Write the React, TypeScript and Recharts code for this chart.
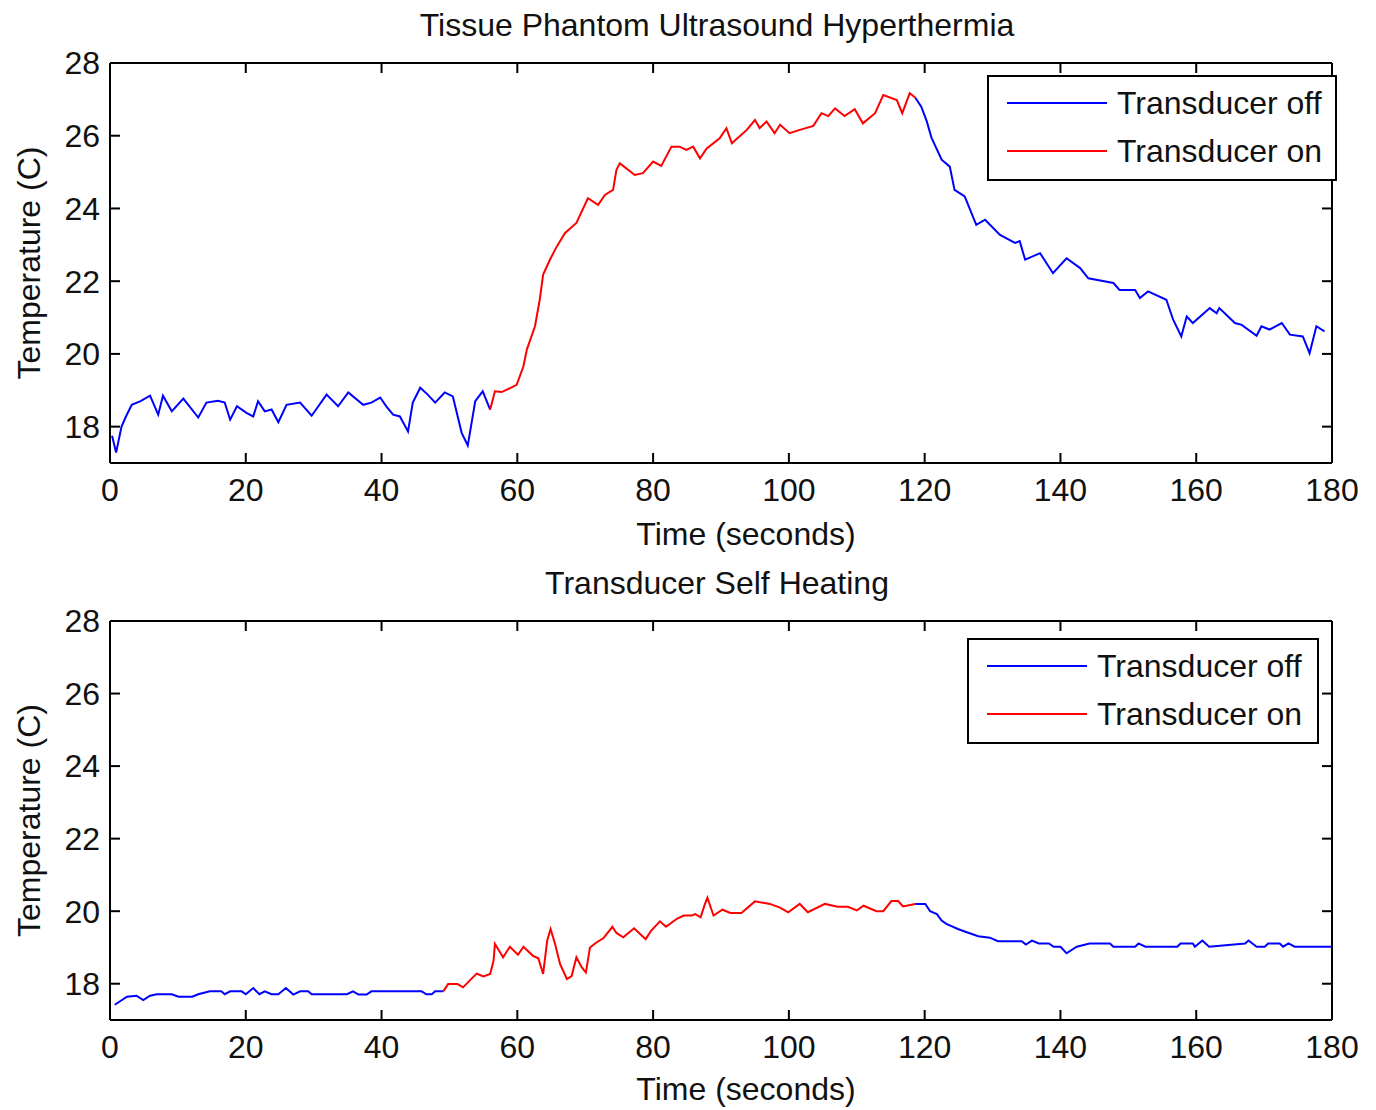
import React from 'react'
import { LineChart, Line, XAxis, YAxis, Legend } from 'recharts'

const FONT = '"Liberation Sans", Arial, Helvetica, sans-serif'

const timeTicks = [0, 20, 40, 60, 80, 100, 120, 140, 160, 180]
const tempTicks = [18, 20, 22, 24, 26, 28]
const seriesNames = ['Transducer off', 'Transducer on']

// top panel: tissue phantom
const phantomTime = [
  0.3, 0.9, 1.7, 2.4, 3.2, 4.5, 5.9, 7.1, 7.8, 9.1, 10.8, 13.0, 14.2, 15.9, 16.9, 17.7, 18.7, 20.1, 21.1, 21.8,
  22.8, 23.8, 24.8, 26.0, 28.0, 29.7, 31.9, 33.6, 35.1, 37.3, 38.5, 39.8, 40.7, 41.7, 42.7, 43.9, 44.6, 45.7, 46.8, 47.9,
  49.3, 50.5, 51.8, 52.7, 53.8, 54.9, 56.0,
  56.7, 57.7, 59.9, 60.9, 61.4, 62.6, 63.3, 63.8, 64.8, 65.8, 67.0, 68.7, 70.4, 71.9, 72.9, 74.1, 74.6, 75.1, 77.3, 78.5,
  80.0, 81.2, 82.7, 83.9, 84.9, 85.9, 86.9, 87.9, 89.8, 90.8, 91.6, 93.8, 95.0, 95.7, 96.7, 97.9, 98.7, 100.1, 101.6, 103.6,
  104.8, 105.8, 106.8, 108.2, 109.7, 110.9, 112.7, 113.9, 115.9, 116.7, 117.8, 118.6,
  119.5, 120.3, 121.0, 122.5, 123.7, 124.4, 125.9, 127.6, 128.9, 131.1, 133.3, 134.0, 134.8, 137.0, 138.9, 140.9, 142.9, 144.1,
  147.8, 148.7, 151.0, 151.7, 152.9, 155.6, 156.6, 157.8, 158.6, 159.5, 162.0, 163.0, 163.4, 165.7, 166.7, 168.9, 169.6, 170.8,
  172.6, 173.8, 175.7, 176.7, 177.7, 178.9,
]
const phantomTemp = [
  17.75, 17.29, 18.0, 18.3, 18.6, 18.7, 18.85, 18.33, 18.85, 18.42, 18.77, 18.25, 18.66, 18.71, 18.66, 18.19, 18.56, 18.38, 18.28, 18.7,
  18.42, 18.47, 18.12, 18.6, 18.66, 18.3, 18.88, 18.56, 18.94, 18.6, 18.66, 18.8, 18.56, 18.33, 18.28, 17.87, 18.66, 19.07, 18.88, 18.66,
  18.94, 18.83, 17.83, 17.48, 18.7, 18.97, 18.47,
  18.97, 18.95, 19.15, 19.66, 20.12, 20.76, 21.49, 22.18, 22.59, 22.95, 23.32, 23.6, 24.28, 24.1, 24.37, 24.51, 25.06, 25.24, 24.92, 24.97,
  25.29, 25.17, 25.7, 25.7, 25.61, 25.7, 25.38, 25.65, 25.93, 26.21, 25.79, 26.16, 26.43, 26.21, 26.39, 26.07, 26.3, 26.07, 26.16, 26.27,
  26.62, 26.54, 26.75, 26.54, 26.73, 26.34, 26.62, 27.12, 26.98, 26.62, 27.17, 27.05,
  26.8, 26.4, 25.95, 25.34, 25.15, 24.51, 24.33, 23.55, 23.69, 23.27, 23.05, 23.1, 22.59, 22.77, 22.22, 22.63, 22.36, 22.08,
  21.95, 21.76, 21.76, 21.54, 21.72, 21.49, 20.94, 20.48, 21.03, 20.85, 21.26, 21.12, 21.26, 20.85, 20.8, 20.5, 20.76, 20.67,
  20.85, 20.53, 20.48, 20.02, 20.76, 20.62,
]
const phantomOn = [56.0, 118.6]

// bottom panel: transducer self heating
const selfTime = [
  0.7, 2.5, 3.9, 4.9, 5.9, 6.9, 9.1, 10.1, 12.1, 13.0, 14.7, 16.4, 16.9, 17.7, 19.4, 20.0, 21.1, 22.0, 22.8, 23.8,
  24.8, 25.9, 27.0, 28.0, 29.2, 29.7, 34.9, 35.8, 36.6, 37.8, 38.5, 45.9, 46.6, 47.4, 47.9, 49.1,
  49.8, 51.2, 52.0, 54.0, 55.0, 56.0, 56.5, 56.7, 57.9, 58.9, 60.1, 60.9, 62.3, 63.1, 63.8, 64.4, 64.9, 65.6, 66.3, 67.3,
  68.0, 68.7, 69.5, 70.1, 70.7, 71.6, 72.7, 74.0, 74.6, 75.6, 77.2, 78.9, 79.7, 81.0, 81.9, 83.5, 84.5, 85.7, 86.2, 87.0,
  87.6, 88.0, 88.4, 88.9, 90.2, 91.4, 93.0, 95.0, 97.2, 98.7, 99.9, 101.6, 102.8, 105.3, 107.2, 108.7, 110.0, 111.0, 112.9, 113.9,
  115.1, 116.1, 116.8, 118.6,
  120.1, 120.8, 121.8, 122.5, 123.2, 124.9, 126.2, 127.9, 129.6, 130.8, 134.3, 134.9, 135.8, 136.8, 138.3, 139.0, 140.0, 140.9,
  142.4, 144.3, 147.3, 147.8, 151.0, 151.5, 152.5, 157.2, 157.7, 159.5, 159.8, 160.9, 161.9, 167.2, 167.7, 168.9, 170.1, 170.6,
  172.3, 172.8, 173.6, 174.5, 180.0,
]
const selfTemp = [
  17.42, 17.64, 17.67, 17.55, 17.67, 17.71, 17.71, 17.64, 17.64, 17.71, 17.79, 17.79, 17.71, 17.79, 17.79, 17.71, 17.88, 17.71, 17.79, 17.71,
  17.71, 17.88, 17.7, 17.79, 17.79, 17.71, 17.71, 17.79, 17.7, 17.7, 17.79, 17.79, 17.71, 17.71, 17.79, 17.79,
  17.99, 17.99, 17.9, 18.28, 18.2, 18.27, 18.64, 19.1, 18.73, 19.02, 18.8, 19.02, 18.77, 18.7, 18.27, 19.19, 19.51, 19.07, 18.54, 18.13,
  18.21, 18.73, 18.45, 18.31, 19.0, 19.13, 19.26, 19.57, 19.4, 19.28, 19.53, 19.23, 19.46, 19.72, 19.57, 19.79, 19.88, 19.88, 19.92, 19.83,
  20.18, 20.37, 20.15, 19.88, 20.04, 19.95, 19.95, 20.27, 20.2, 20.1, 19.97, 20.2, 19.97, 20.2, 20.12, 20.12, 20.02, 20.15, 20.0, 20.0,
  20.28, 20.28, 20.13, 20.2,
  20.2, 20.0, 19.92, 19.74, 19.65, 19.51, 19.42, 19.31, 19.27, 19.17, 19.17, 19.08, 19.19, 19.11, 19.11, 19.02, 19.02, 18.84,
  19.02, 19.11, 19.11, 19.02, 19.02, 19.11, 19.02, 19.02, 19.11, 19.11, 19.02, 19.19, 19.02, 19.11, 19.19, 19.02, 19.02, 19.11,
  19.11, 19.02, 19.11, 19.02, 19.02,
]
const selfOn = [49.1, 118.6]

function buildRows(time: number[], temp: number[], on: number[]) {
  return time.map((t, i) => ({
    t,
    off: t <= on[0] || t >= on[1] ? temp[i] : null,
    on: t >= on[0] && t <= on[1] ? temp[i] : null,
  }))
}

const axisStyle = { stroke: '#000', strokeWidth: 2 }
const noLabel = () => null

function LegendBox({ payload, width, height }: any) {
  return (
    <svg width={width} height={height} style={{ display: 'block' }}>
      <rect x={1} y={1} width={width - 2} height={height - 2} fill="#fff" stroke="#000" strokeWidth={2} />
      {(payload || []).map((entry: any, i: number) => {
        const y = 28 + i * 48
        return (
          <g key={entry.value}>
            <line x1={20} x2={120} y1={y} y2={y} stroke={entry.color} strokeWidth={2} />
            <text x={130} y={y + 11} fontSize={32} fontFamily={FONT} fill="#111">{entry.value}</text>
          </g>
        )
      })}
    </svg>
  )
}

interface PanelProps {
  title: string
  rows: any[]
  top: number
  titleTop: number
  marginTop: number
  xAxisHeight: number
  legendLeft: number
  legendTop: number
  legendWidth: number
  legendHeight: number
}

function Panel(p: PanelProps) {
  return (
    <div style={{ position: 'absolute', left: 0, top: p.top, width: 1376, height: 555 }}>
      <div style={{ position: 'absolute', left: 106, width: 1222, top: p.titleTop, textAlign: 'center', fontFamily: FONT, fontSize: 32, lineHeight: '32px', color: '#111' }}>
        {p.title}
      </div>
      <LineChart width={1376} height={555} data={p.rows} margin={{ top: p.marginTop - 1, right: 43, bottom: 2, left: 10 }}>
        <XAxis
          dataKey="t" type="number" domain={[0, 180]} ticks={timeTicks} allowDataOverflow
          height={p.xAxisHeight} tickSize={-10} tickMargin={25}
          axisLine={axisStyle} tickLine={axisStyle}
          tick={{ fill: '#111', fontSize: 32, fontFamily: FONT }}
          label={{
            content: (lp: any) => {
              const vb = lp.viewBox || { x: 110, y: 463, width: 1222, height: p.xAxisHeight }
              return (
                <text x={vb.x + vb.width / 2 + 25} y={vb.y + vb.height - 8} textAnchor="middle" fontSize={32} fontFamily={FONT} fill="#111">
                  Time (seconds)
                </text>
              )
            },
          }}
        />
        <XAxis xAxisId="top" dataKey="t" orientation="top" type="number" domain={[0, 180]} ticks={timeTicks} allowDataOverflow
          height={1} tickSize={-10} tick={noLabel} axisLine={axisStyle} tickLine={axisStyle} />
        <YAxis
          type="number" domain={[17, 28]} ticks={tempTicks} allowDataOverflow
          width={100} tickSize={-10} tickMargin={20}
          axisLine={axisStyle} tickLine={axisStyle}
          tick={{ fill: '#111', fontSize: 32, fontFamily: FONT }}
          label={{
            content: (lp: any) => {
              const vb = lp.viewBox || { y: p.marginTop, height: 400 }
              const cy = vb.y + vb.height / 2
              return (
                <text x={40} y={cy} transform={`rotate(-90 40 ${cy})`} textAnchor="middle" fontSize={32} fontFamily={FONT} fill="#111">
                  Temperature (C)
                </text>
              )
            },
          }}
        />
        <YAxis yAxisId="right" orientation="right" type="number" domain={[17, 28]} ticks={tempTicks} allowDataOverflow
          width={1} tickSize={-10} tick={noLabel} axisLine={axisStyle} tickLine={axisStyle} />
        <Legend
          layout="horizontal" align="center" verticalAlign="middle"
          wrapperStyle={{ left: p.legendLeft, top: p.legendTop, width: p.legendWidth, height: p.legendHeight, overflow: 'visible' }}
          content={(lp: any) => <LegendBox payload={lp.payload} width={p.legendWidth} height={p.legendHeight} />}
        />
        <Line name={seriesNames[0]} dataKey="off" type="linear" stroke="#0000ff" strokeWidth={2} dot={false} isAnimationActive={false} connectNulls={false} />
        <Line name={seriesNames[1]} dataKey="on" type="linear" stroke="#ff0000" strokeWidth={2} dot={false} isAnimationActive={false} connectNulls={false} />
        <Line xAxisId="top" yAxisId="right" dataKey="frame" legendType="none" stroke="none" dot={false} isAnimationActive={false} />
      </LineChart>
    </div>
  )
}

export default function App() {
  return (
    <div style={{ position: 'absolute', left: 0, top: 0, width: 1376, height: 1110, background: '#fff' }}>
      <Panel
        title="Tissue Phantom Ultrasound Hyperthermia"
        rows={buildRows(phantomTime, phantomTemp, phantomOn)}
        top={0} titleTop={9} marginTop={63} xAxisHeight={90}
        legendLeft={987} legendTop={75} legendWidth={350} legendHeight={106}
      />
      <Panel
        title="Transducer Self Heating"
        rows={buildRows(selfTime, selfTemp, selfOn)}
        top={555} titleTop={12} marginTop={66} xAxisHeight={88}
        legendLeft={967} legendTop={83} legendWidth={352} legendHeight={106}
      />
    </div>
  )
}
